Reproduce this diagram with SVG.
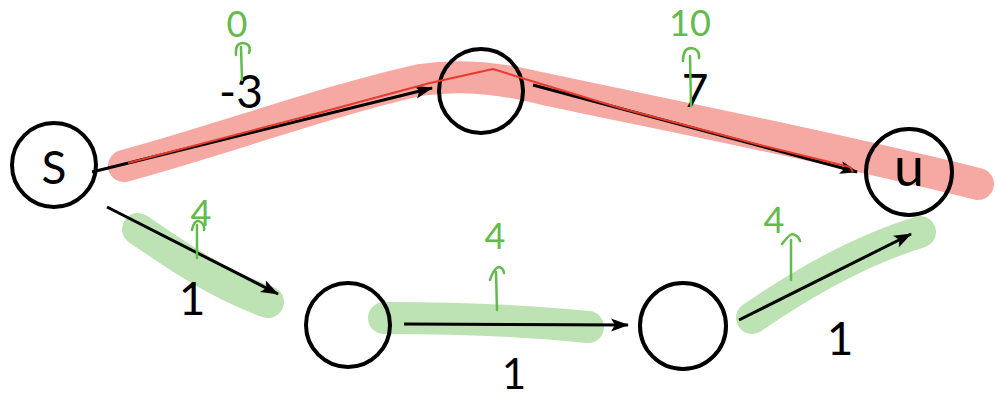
<svg xmlns="http://www.w3.org/2000/svg" width="998" height="399" viewBox="0 0 998 399">
  <style>
    .band { fill: none; stroke-linecap: round; stroke-linejoin: round; }
    .red-band { stroke: #f5a9a2; stroke-width: 32; }
    .green-band { stroke: #bde2b3; stroke-width: 32; }
    .node circle { fill: none; stroke: #000; stroke-width: 4; }
    .node text, .weight { font-family: "Lato", "Liberation Sans", sans-serif; fill: #000; text-anchor: middle; }
    .node text { font-size: 46px; }
    .weight { font-size: 46px; }
    .edge { stroke: #000; stroke-width: 3; fill: none; marker-end: url(#head); }
    .route { stroke: #e8392b; stroke-width: 2; fill: none; stroke-linejoin: round; }
    .note { font-family: "Lato", "Liberation Sans", sans-serif; font-size: 36px; fill: #62bb4c; text-anchor: middle; }
    .up { stroke: #62bb4c; stroke-width: 2.5; fill: none; stroke-linecap: round; stroke-linejoin: round; }
  </style>
  <defs>
    <marker id="head" markerUnits="userSpaceOnUse" markerWidth="20" markerHeight="14" refX="17" refY="6.5" orient="auto">
      <path d="M0,0 L18,6.5 L0,13 L4,6.5 z" fill="#000"/>
    </marker>
  </defs>

  <!-- highlighted paths -->
  <g id="highlights">
    <path class="band red-band" d="M124,166 C220,140 330,100 420,80 C460,74 500,78 540,88 C650,112 800,140 978,184"/>
    <path class="band green-band" d="M138,229 C180,258 220,285 268,302"/>
    <path class="band green-band" d="M384,318 C450,318 520,320 588,327"/>
    <path class="band green-band" d="M752,318 C800,285 860,250 920,232"/>
  </g>

  <!-- nodes -->
  <g id="node-s" class="node">
    <circle cx="54" cy="165" r="42"/>
    <text x="54" y="184">S</text>
  </g>
  <g id="node-top" class="node">
    <circle cx="481" cy="91" r="42"/>
  </g>
  <g id="node-u" class="node">
    <circle cx="909" cy="172" r="43"/>
    <text x="909" y="186" style="font-size:54px">u</text>
  </g>
  <g id="node-bl" class="node">
    <circle cx="348" cy="325" r="42"/>
  </g>
  <g id="node-br" class="node">
    <circle cx="683" cy="326" r="43"/>
  </g>

  <!-- connectors -->
  <g id="connectors">
    <line class="edge" x1="92" y1="172" x2="432" y2="88"/>
    <line class="edge" x1="533" y1="85" x2="857" y2="172"/>
    <line class="edge" x1="107" y1="207" x2="278" y2="294"/>
    <line class="edge" x1="404" y1="324" x2="628" y2="325"/>
    <line class="edge" x1="739" y1="320" x2="911" y2="234"/>
    <path class="route" d="M128,163 L300,118 L430,83 L493,69 L525,79 L620,108 L760,145 L850,167 L853,172"/>
  </g>

  <!-- edge weights -->
  <g id="weights">
    <text class="weight" x="241" y="108">-3</text>
    <text class="weight" x="695" y="107">7</text>
    <text class="weight" x="192" y="315">1</text>
    <text class="weight" x="514" y="389" style="font-size:42px">1</text>
    <text class="weight" x="840" y="355">1</text>
  </g>

  <!-- distance notes -->
  <g id="notes">
    <text class="note" x="237" y="37">0</text>
    <path class="up" d="M242,80 L241,47 M236,55 Q235,43 243,43 Q252,44 249,53"/>
    <text class="note" x="690" y="36">10</text>
    <path class="up" d="M691,106 L690,56 M683,61 Q683,48 691,48 Q700,49 699,58"/>
    <text class="note" x="201" y="226">4</text>
    <path class="up" d="M197,258 L197,225 M192,230 Q194,220 199,221 Q205,224 204,230"/>
    <text class="note" x="495" y="249">4</text>
    <path class="up" d="M497,310 L496,272 M490,280 Q493,270 498,267 Q503,267 504,273"/>
    <text class="note" x="774" y="233">4</text>
    <path class="up" d="M791,280 L791,240 M782,244 Q788,236 792,234 Q798,235 800,241"/>
  </g>
</svg>
